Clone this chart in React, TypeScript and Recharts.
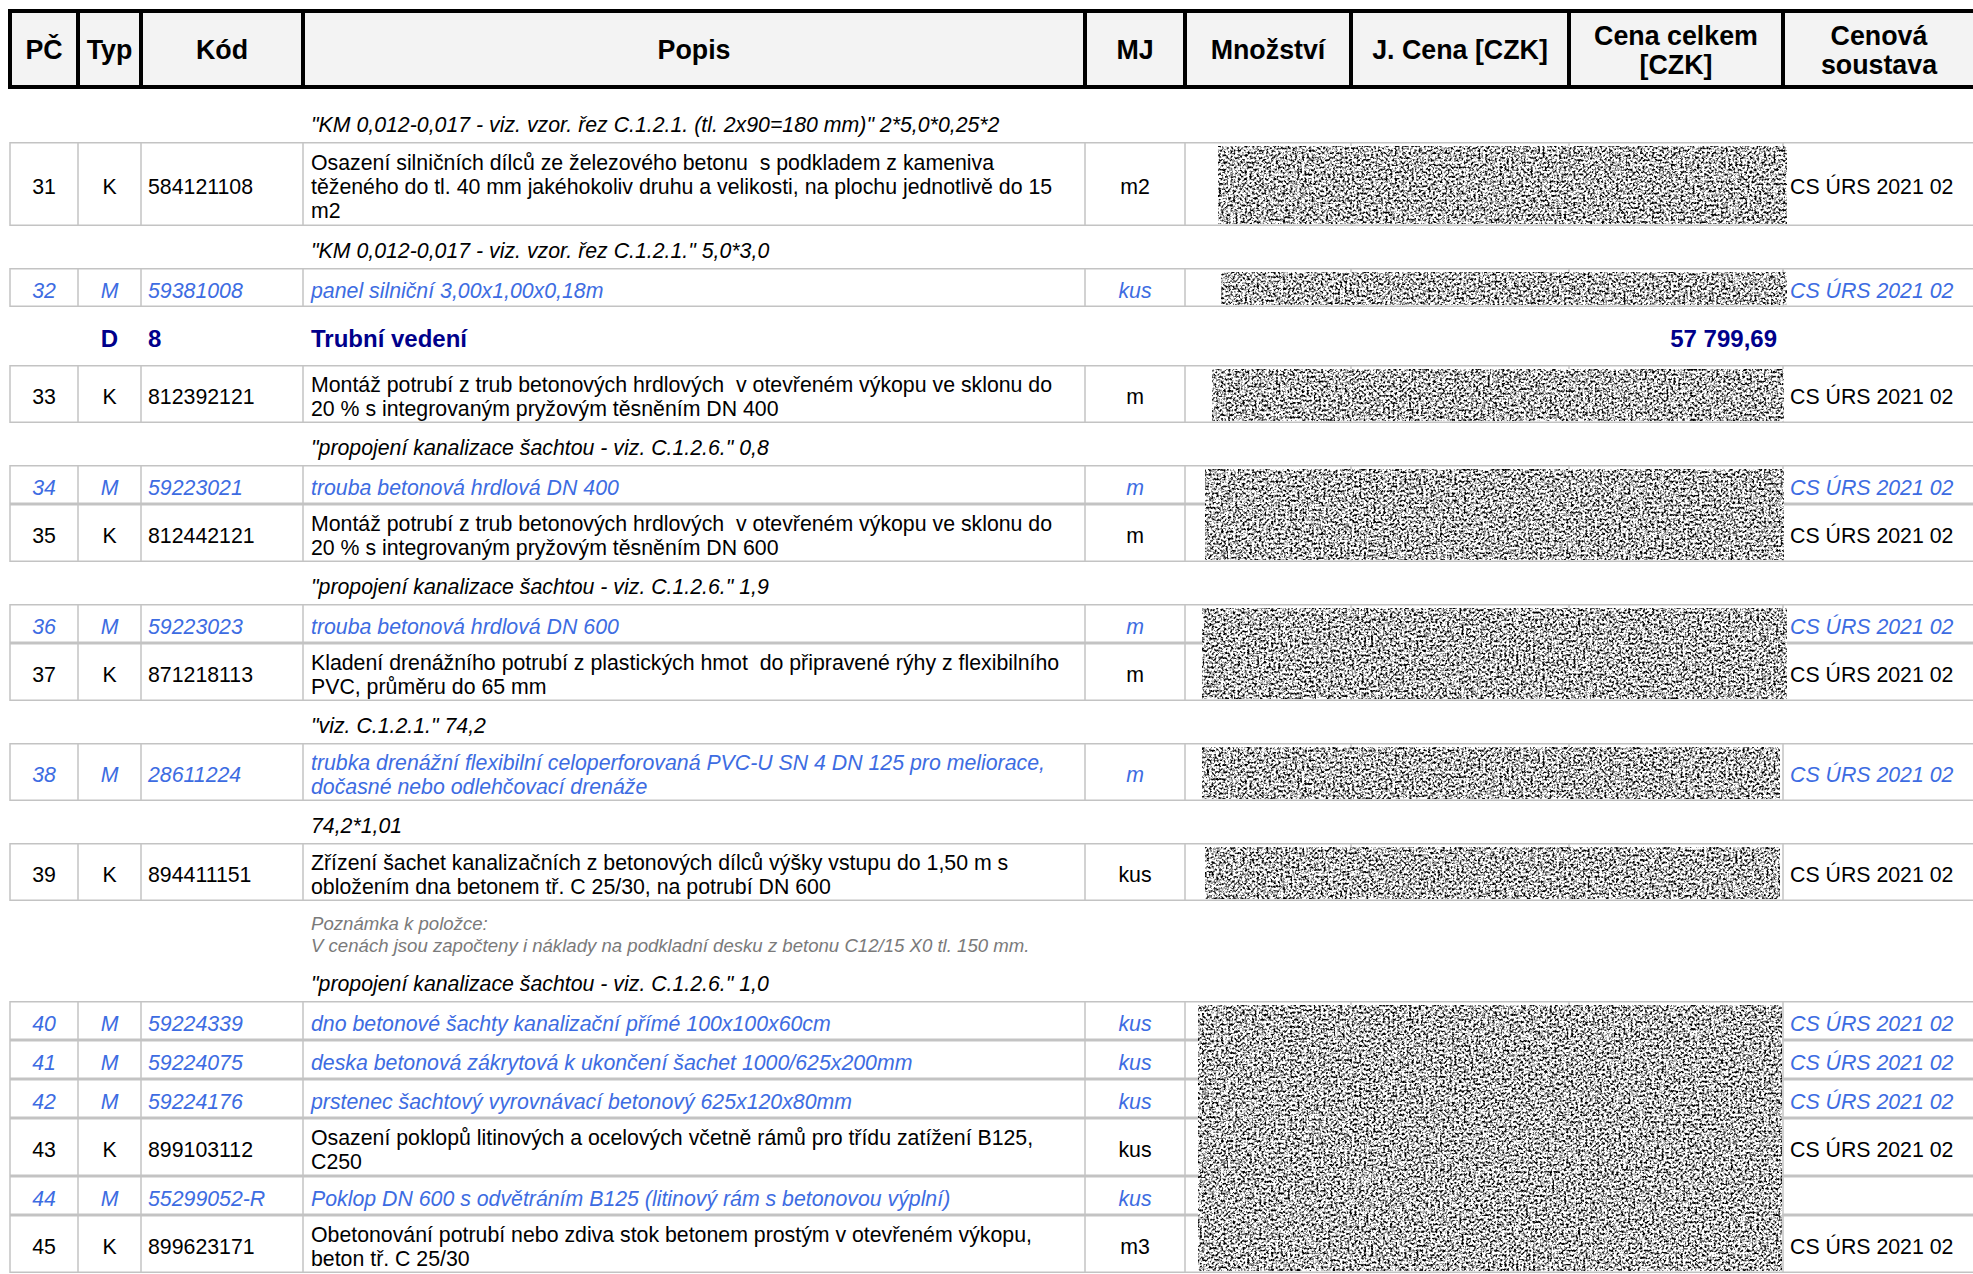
import React from "react";
import { Surface, Layer, Rectangle, Text } from "recharts";

const W = 1973;
const H = 1274;
const FONT = "'Liberation Sans', Arial, sans-serif";

const headerLabels = [["PČ"], ["Typ"], ["Kód"], ["Popis"], ["MJ"], ["Množství"], ["J. Cena [CZK]"], ["Cena celkem", "[CZK]"], ["Cenová", "soustava"]];

const itemNo = ["31", "32", "33", "34", "35", "36", "37", "38", "39", "40", "41", "42", "43", "44", "45"];
const itemType = ["K", "M", "K", "M", "K", "M", "K", "M", "K", "M", "M", "M", "K", "M", "K"];
const itemCode = ["584121108", "59381008", "812392121", "59223021", "812442121", "59223023", "871218113", "28611224", "894411151", "59224339", "59224075", "59224176", "899103112", "55299052-R", "899623171"];
const itemDesc = [
  ["Osazení silničních dílců ze železového betonu \u00a0s podkladem z kameniva", "těženého do tl. 40 mm jakéhokoliv druhu a velikosti, na plochu jednotlivě do 15", "m2"],
  ["panel silniční 3,00x1,00x0,18m"],
  ["Montáž potrubí z trub betonových hrdlových \u00a0v otevřeném výkopu ve sklonu do", "20 % s integrovaným pryžovým těsněním DN 400"],
  ["trouba betonová hrdlová DN 400"],
  ["Montáž potrubí z trub betonových hrdlových \u00a0v otevřeném výkopu ve sklonu do", "20 % s integrovaným pryžovým těsněním DN 600"],
  ["trouba betonová hrdlová DN 600"],
  ["Kladení drenážního potrubí z plastických hmot \u00a0do připravené rýhy z flexibilního", "PVC, průměru do 65 mm"],
  ["trubka drenážní flexibilní celoperforovaná PVC-U SN 4 DN 125 pro meliorace,", "dočasné nebo odlehčovací drenáže"],
  ["Zřízení šachet kanalizačních z betonových dílců výšky vstupu do 1,50 m s", "obložením dna betonem tř. C 25/30, na potrubí DN 600"],
  ["dno betonové šachty kanalizační přímé 100x100x60cm"],
  ["deska betonová zákrytová k ukončení šachet 1000/625x200mm"],
  ["prstenec šachtový vyrovnávací betonový 625x120x80mm"],
  ["Osazení poklopů litinových a ocelových včetně rámů pro třídu zatížení B125,", "C250"],
  ["Poklop DN 600 s odvětráním B125 (litinový rám s betonovou výplní)"],
  ["Obetonování potrubí nebo zdiva stok betonem prostým v otevřeném výkopu,", "beton tř. C 25/30"],
];
const itemUnit = ["m2", "kus", "m", "m", "m", "m", "m", "m", "kus", "kus", "kus", "kus", "kus", "kus", "m3"];
const itemSystem = ["CS ÚRS 2021 02", "CS ÚRS 2021 02", "CS ÚRS 2021 02", "CS ÚRS 2021 02", "CS ÚRS 2021 02", "CS ÚRS 2021 02", "CS ÚRS 2021 02", "CS ÚRS 2021 02", "CS ÚRS 2021 02", "CS ÚRS 2021 02", "CS ÚRS 2021 02", "CS ÚRS 2021 02", "CS ÚRS 2021 02", "", "CS ÚRS 2021 02"];

const noteTexts = [
  "\"KM 0,012-0,017 - viz. vzor. řez C.1.2.1. (tl. 2x90=180 mm)\" 2*5,0*0,25*2",
  "\"KM 0,012-0,017 - viz. vzor. řez C.1.2.1.\" 5,0*3,0",
  "\"propojení kanalizace šachtou - viz. C.1.2.6.\" 0,8",
  "\"propojení kanalizace šachtou - viz. C.1.2.6.\" 1,9",
  "\"viz. C.1.2.1.\" 74,2",
  "74,2*1,01",
  "\"propojení kanalizace šachtou - viz. C.1.2.6.\" 1,0",
];
const remarkLines = ["Poznámka k položce:", "V cenách jsou započteny i náklady na podkladní desku z betonu C12/15 X0 tl. 150 mm."];
const sectionType = "D";
const sectionCode = "8";
const sectionName = "Trubní vedení";
const sectionTotal = "57 799,69";

// order of the rows below the header
const rowKinds = ["note", "item", "note", "item", "section", "item", "note", "item", "item", "note", "item", "item", "note", "item", "note", "item", "remark", "note", "item", "item", "item", "item", "item", "item"];

// hidden price cells: first / last item covered
const hiddenFrom = ["31", "32", "33", "34", "36", "38", "39", "40"];
const hiddenTo = ["31", "32", "33", "35", "37", "38", "39", "45"];

// layout
const COL = [10, 78, 141, 303, 1085, 1185, 1351, 1569, 1783, 1975];
const HEAD_TOP = 11;
const HEAD_BOTTOM = 87;
const LINE_H = 24;
const ITEM_H = [0, 39, 58, 84];
const NOTE_H = 42;
const SECTION_H = 58;
const REMARK_H = 58;
const HIDDEN_X = [[1218, 1787], [1221, 1787], [1212, 1784], [1205, 1784], [1202, 1787], [1202, 1780], [1205, 1780], [1198, 1782]];

const BLUE = "#3d6ce2";
const NAVY = "#00008b";
const GRID = "#c3c3c3";
const BODY = 21.3;

type Placed = { kind: string; top: number; bottom: number; idx: number };

function layoutRows(): Placed[] {
  const out: Placed[] = [];
  let y = HEAD_BOTTOM + 13;
  let item = 0;
  let note = 0;
  rowKinds.forEach((kind) => {
    let h = NOTE_H;
    let idx = 0;
    if (kind === "item") {
      h = ITEM_H[itemDesc[item].length];
      idx = item++;
    } else if (kind === "note") {
      idx = note++;
    } else if (kind === "section") h = SECTION_H;
    else if (kind === "remark") h = REMARK_H;
    out.push({ kind, top: y, bottom: y + h, idx });
    y += h;
  });
  return out;
}

function Cell({ x, y, text, anchor = "start", color = "#000", italic = false, bold = false, size = BODY }: any) {
  return (
    <Text
      x={x}
      y={y + 2.5}
      textAnchor={anchor}
      verticalAnchor="middle"
      fontFamily={FONT}
      fontSize={size}
      fontStyle={italic ? "italic" : "normal"}
      fontWeight={bold ? "bold" : "normal"}
      fill={color}
    >
      {text}
    </Text>
  );
}

export default function App() {
  const rows = layoutRows();
  const itemRows = rows.filter((r) => r.kind === "item");
  const byNo = (no: string) => itemRows[itemNo.indexOf(no)];

  return (
    <div style={{ position: "absolute", left: 0, top: 0, width: W, height: H, overflow: "hidden", background: "#fff" }}>
      <Surface width={W} height={H} viewBox={{ x: 0, y: 0, width: W, height: H }}>
        <defs>
          <filter id="noise" x="0" y="0" width="100%" height="100%" colorInterpolationFilters="sRGB">
            <feTurbulence type="fractalNoise" baseFrequency="0.42" numOctaves="2" seed="11" result="t" />
            <feColorMatrix in="t" type="matrix" values="3.5 0 0 0 -1.0  3.5 0 0 0 -1.0  3.5 0 0 0 -1.0  0 0 0 0 1" />
          </filter>
        </defs>

        {/* header */}
        <Layer>
          <Rectangle x={COL[0]} y={HEAD_TOP} width={COL[9] - COL[0]} height={HEAD_BOTTOM - HEAD_TOP} fill="#f3f3f3" stroke="#000" strokeWidth={4} />
          {COL.slice(1, 9).map((x) => (
            <line key={x} x1={x} x2={x} y1={HEAD_TOP} y2={HEAD_BOTTOM} stroke="#000" strokeWidth={4} />
          ))}
          {headerLabels.map((lines, i) => {
            const cx = (COL[i] + COL[i + 1]) / 2;
            const cy = (HEAD_TOP + HEAD_BOTTOM) / 2 - 2;
            return lines.map((t, j) => (
              <Cell key={`${i}-${j}`} x={cx} y={cy + (j - (lines.length - 1) / 2) * 29} text={t} anchor="middle" bold size={26.8} />
            ));
          })}
        </Layer>

        {/* body */}
        {rows.map((r, k) => {
          const cy = (r.top + r.bottom) / 2;
          if (r.kind === "note") {
            return <Cell key={k} x={COL[3] + 8} y={cy + 1} text={noteTexts[r.idx]} italic />;
          }
          if (r.kind === "remark") {
            return (
              <Layer key={k}>
                {remarkLines.map((t, j) => (
                  <Cell key={j} x={COL[3] + 8} y={r.top + 20 + j * 22} text={t} italic color="#7a7a7a" size={18.6} />
                ))}
              </Layer>
            );
          }
          if (r.kind === "section") {
            return (
              <Layer key={k}>
                <Cell x={(COL[1] + COL[2]) / 2} y={cy} text={sectionType} anchor="middle" bold color={NAVY} size={24} />
                <Cell x={COL[2] + 7} y={cy} text={sectionCode} bold color={NAVY} size={24} />
                <Cell x={COL[3] + 8} y={cy} text={sectionName} bold color={NAVY} size={24} />
                <Cell x={COL[8] - 6} y={cy} text={sectionTotal} anchor="end" bold color={NAVY} size={24} />
              </Layer>
            );
          }
          const i = r.idx;
          const m = itemType[i] === "M";
          const color = m ? BLUE : "#000";
          const desc = itemDesc[i];
          return (
            <Layer key={k}>
              <line x1={COL[0]} x2={W} y1={r.top + 0.75} y2={r.top + 0.75} stroke={GRID} strokeWidth={1.5} />
              <line x1={COL[0]} x2={W} y1={r.bottom - 0.75} y2={r.bottom - 0.75} stroke={GRID} strokeWidth={1.5} />
              {COL.slice(0, 9).map((x) => (
                <line key={x} x1={x} x2={x} y1={r.top} y2={r.bottom} stroke={GRID} strokeWidth={1.5} />
              ))}
              <Cell x={(COL[0] + COL[1]) / 2} y={cy} text={itemNo[i]} anchor="middle" color={color} italic={m} />
              <Cell x={(COL[1] + COL[2]) / 2} y={cy} text={itemType[i]} anchor="middle" color={color} italic={m} />
              <Cell x={COL[2] + 7} y={cy} text={itemCode[i]} color={color} italic={m} />
              {desc.map((t, j) => (
                <Cell key={j} x={COL[3] + 8} y={cy + (j - (desc.length - 1) / 2) * LINE_H} text={t} color={color} italic={m} />
              ))}
              <Cell x={(COL[4] + COL[5]) / 2} y={cy} text={itemUnit[i]} anchor="middle" color={color} italic={m} />
              {itemSystem[i] && <Cell x={COL[8] + 7} y={cy} text={itemSystem[i]} color={color} italic={m} />}
            </Layer>
          );
        })}

        {/* redacted price cells */}
        {hiddenFrom.map((from, b) => {
          const a = byNo(from);
          const z = byNo(hiddenTo[b]);
          const top = a.top + 4;
          const bottom = Math.min(z.bottom - 2, H);
          return (
            <rect key={b} x={HIDDEN_X[b][0]} y={top} width={HIDDEN_X[b][1] - HIDDEN_X[b][0]} height={bottom - top} fill="#fff" filter="url(#noise)" />
          );
        })}
      </Surface>
    </div>
  );
}
